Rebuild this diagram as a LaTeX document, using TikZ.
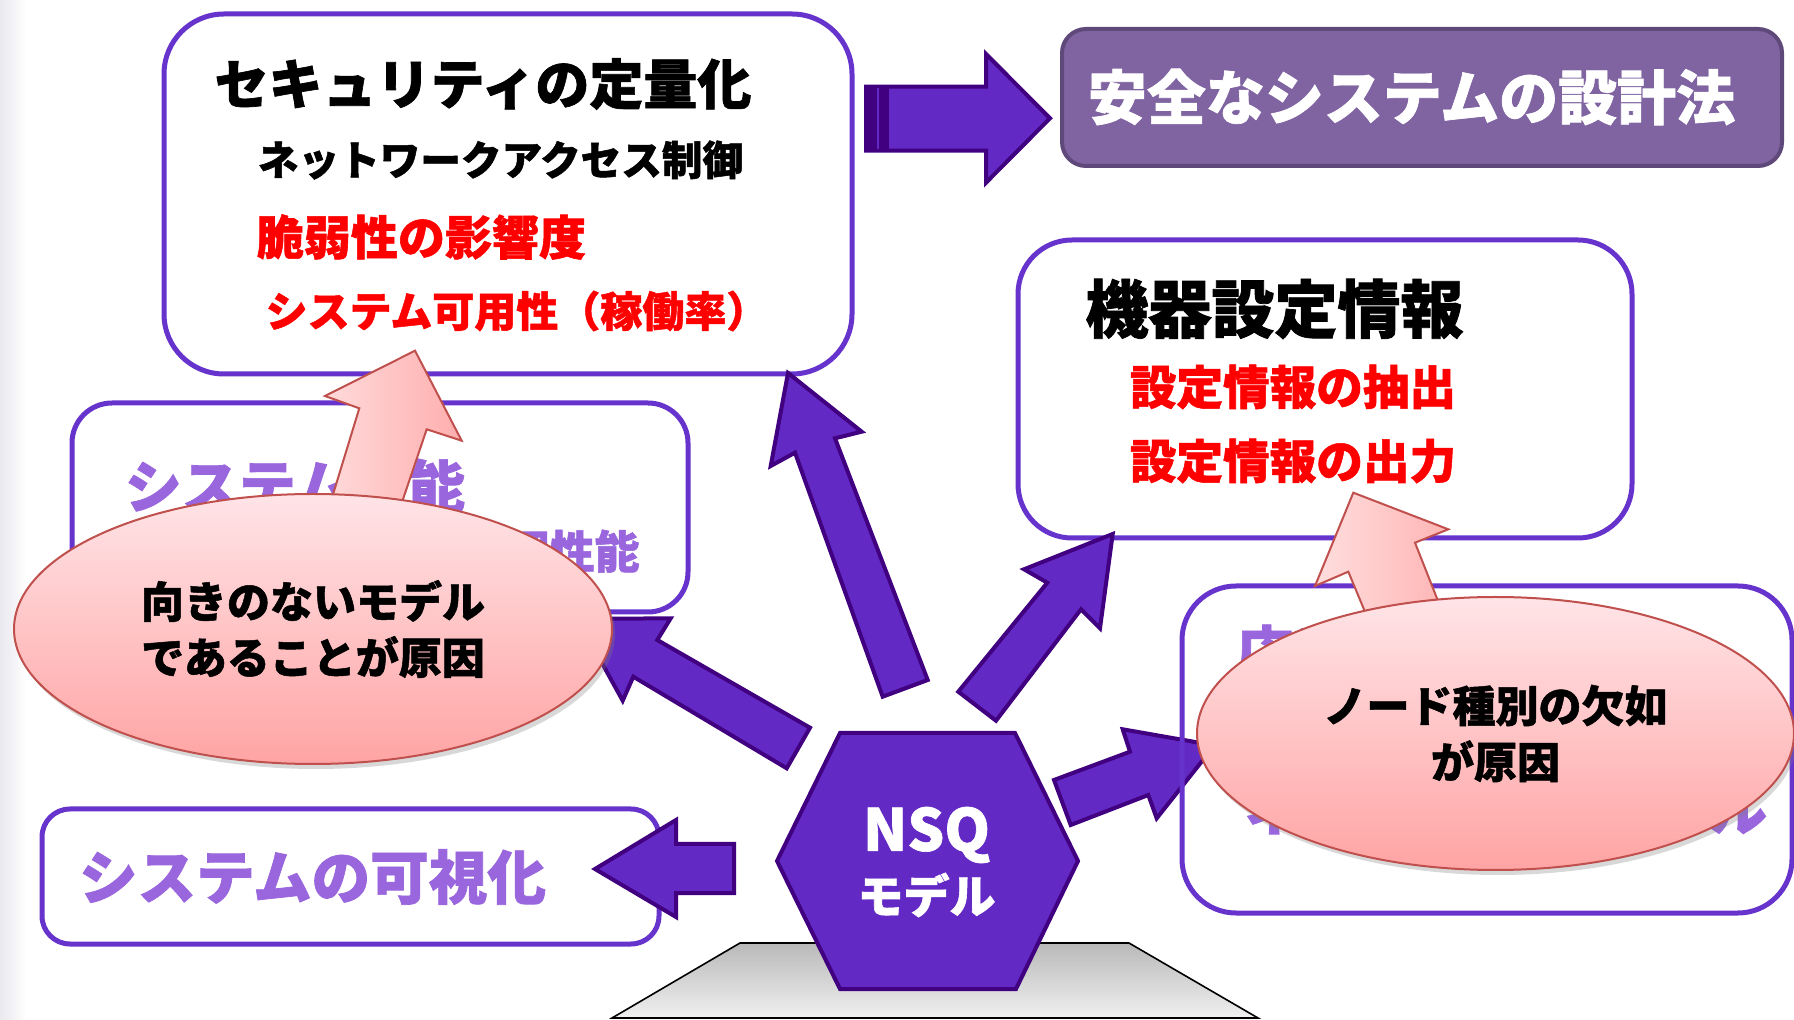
\documentclass[tikz,border=0pt]{standalone}
\usepackage{fontspec}
\setmainfont{Noto Sans CJK JP}[BoldFeatures={FakeBold=1.2}]
\usetikzlibrary{shapes.geometric,shadows}
\definecolor{boxborder}{RGB}{102,51,204}
\definecolor{arrowfill}{RGB}{99,41,196}
\definecolor{arrowdraw}{RGB}{64,0,128}
\definecolor{lav}{RGB}{153,102,221}
\definecolor{designfill}{RGB}{128,100,162}
\definecolor{designdraw}{RGB}{95,73,122}
\definecolor{pinkdraw}{RGB}{192,80,77}
\definecolor{pinktop}{RGB}{255,228,231}
\definecolor{pinkbot}{RGB}{255,164,164}
\definecolor{pinkl}{RGB}{255,222,222}
\definecolor{pinkr}{RGB}{255,174,174}
\definecolor{textred}{RGB}{255,0,0}
\newcommand{\setfs}[1]{\fontsize{#1}{#1}\selectfont}
\begin{document}
\begin{tikzpicture}[x=0.5pt,y=-0.5pt,
  panel/.style={draw=boxborder, line width=2.5pt, fill=white, inner sep=0pt},
  txt/.style={inner sep=0pt, font=\bfseries},
  blockarrow/.style={fill=arrowfill, draw=arrowdraw, line width=2pt, line join=miter},
  pinkarrow/.style={left color=pinkl, right color=pinkr, draw=pinkdraw, line width=1pt, line join=miter},
  cloud/.style={ellipse, top color=pinktop, bottom color=pinkbot, draw=pinkdraw, line width=1pt,
     inner sep=0pt, align=center, font=\bfseries\fontsize{21.5}{28}\selectfont,
     drop shadow={shadow xshift=1.5pt, shadow yshift=-2.5pt, opacity=0.3}}
]
\useasboundingbox (0,0) rectangle (1794,1020);
\fill[white] (0,0) rectangle (1794,1020);
\shade[left color={rgb,255:red,232;green,232;blue,238}, right color=white] (0,0) rectangle (26,1020);

% platform
\draw[top color={rgb,255:red,185;green,185;blue,185}, bottom color={rgb,255:red,240;green,240;blue,240}, draw=black, line width=0.8pt]
  (740,943) -- (1129,943) -- (1258,1018) -- (612,1018) -- cycle;

% boxes
\node[panel, rounded corners=30pt, minimum width=344pt, minimum height=180pt] (A) at (508,194) {};
\node[txt, font=\bfseries\setfs{27}] (A1) at (483,84) {セキュリティの定量化};
\node[txt, font=\bfseries\setfs{20.3}] (A2) at (500.5,160) {ネットワークアクセス制御};
\node[txt, font=\bfseries\setfs{23.5}, text=textred] (A3) at (421.5,237) {脆弱性の影響度};
\node[txt, font=\bfseries\setfs{21}, text=textred] (A4) at (517,311) {システム可用性（稼働率）};

\node[draw=designdraw, fill=designfill, line width=2pt, rounded corners=12pt, minimum width=360pt, minimum height=68.5pt, inner sep=0pt] (B) at (1422,97.5) {};
\node[txt, font=\bfseries\setfs{29.5}, text=white] (B1) at (1411.5,97) {安全なシステムの設計法};

\node[panel, rounded corners=27pt, minimum width=307pt, minimum height=149pt] (C) at (1325,389) {};
\node[txt, font=\bfseries\setfs{31.5}] (C1) at (1274.5,309) {機器設定情報};
\node[txt, font=\bfseries\setfs{23.3}, text=textred] (C2) at (1293,387) {設定情報の抽出};
\node[txt, font=\bfseries\setfs{23.3}, text=textred] (C3) at (1293,461) {設定情報の出力};

\node[panel, rounded corners=20pt, minimum width=308pt, minimum height=104.5pt] (D) at (380,507.5) {};
\node[txt, font=\bfseries\setfs{28.5}, text=lav] (D1) at (295,486) {システム性能};
\node[txt, font=\bfseries\setfs{22.5}, text=lav, anchor=east] (D2) at (640,551) {データ処理性能};

\node[panel, rounded corners=14pt, minimum width=308.5pt, minimum height=67.5pt] (F) at (350.5,876.5) {};
\node[txt, font=\bfseries\setfs{29.3}, text=lav] (F1) at (312.5,877) {システムの可視化};

% purple block arrows
\draw[blockarrow] (866,86.7) -- (986,86.7) -- (986,54) -- (1050,118.3) -- (986,182.7) -- (986,150.7) -- (866,150.7) -- cycle;
\fill[arrowdraw] (866,86.7) rectangle (889,150.7);
\draw[arrowfill, line width=1pt] (878,88) -- (878,149.5);

\draw[blockarrow] (882.7,696.7) -- (795,452.7) -- (770.7,466) -- (788,373) -- (861.7,431.7) -- (835,438.3) -- (927.7,680) -- cycle;
\draw[blockarrow] (958.3,691.7) -- (1047.3,582.7) -- (1024,569.3) -- (1112.7,534) -- (1100,628.3) -- (1081,609.3) -- (996,720.7) -- cycle;
\draw[blockarrow] (810,727.7) -- (657.3,640) -- (670.7,618.3) -- (577.7,619) -- (622.7,700.7) -- (633.3,676.7) -- (786.7,768.3) -- cycle;
\draw[blockarrow] (1054,780) -- (1130,751.7) -- (1122.7,729.3) -- (1214.5,745.4) -- (1156.7,818.3) -- (1148.3,795) -- (1070.7,825) -- cycle;
\draw[blockarrow] (734,844) -- (676,844) -- (676,820) -- (595,869) -- (676,917) -- (676,893) -- (734,893) -- cycle;

% box G (transparent)
\node[draw=boxborder, line width=2.5pt, inner sep=0pt, rounded corners=27pt, minimum width=305pt, minimum height=163.5pt] (G) at (1487,749.5) {};
\node[txt, font=\bfseries\setfs{28.5}, text=lav, anchor=west] (G1) at (1236,652) {応用分野};
\node[txt, font=\bfseries\setfs{29}, text=lav] (G2) at (1506,808) {ネットワークモデル};

% hexagon
\draw[blockarrow] (840,733) -- (1015,733) -- (1078,861) -- (1016,989) -- (840,989) -- (777,861) -- cycle;
\node[txt, font=\bfseries\setfs{29}, text=white] (N1) at (926.5,835) {NSQ};
\node[txt, font=\bfseries\setfs{23}, text=white] (N2) at (926.5,895) {モデル};

% pink arrows
\draw[pinkarrow] (313,560) -- (359.3,408.3) -- (325,396) -- (415,350.7) -- (461.7,440.7) -- (426.7,429.3) -- (382.4,560) -- cycle;
\draw[pinkarrow] (1393.4,680) -- (1348.3,571.7) -- (1315,586) -- (1353.3,492.7) -- (1448.3,529.3) -- (1415,542.7) -- (1469.2,680) -- cycle;

% ellipses
\node[cloud, minimum width=299pt, minimum height=135pt] (E1) at (313,629) {向きのないモデル\\であることが原因};
\node[cloud, minimum width=298.5pt, minimum height=136.5pt] (E2) at (1495.5,733.5) {ノード種別の欠如\\が原因};
\end{tikzpicture}
\end{document}
